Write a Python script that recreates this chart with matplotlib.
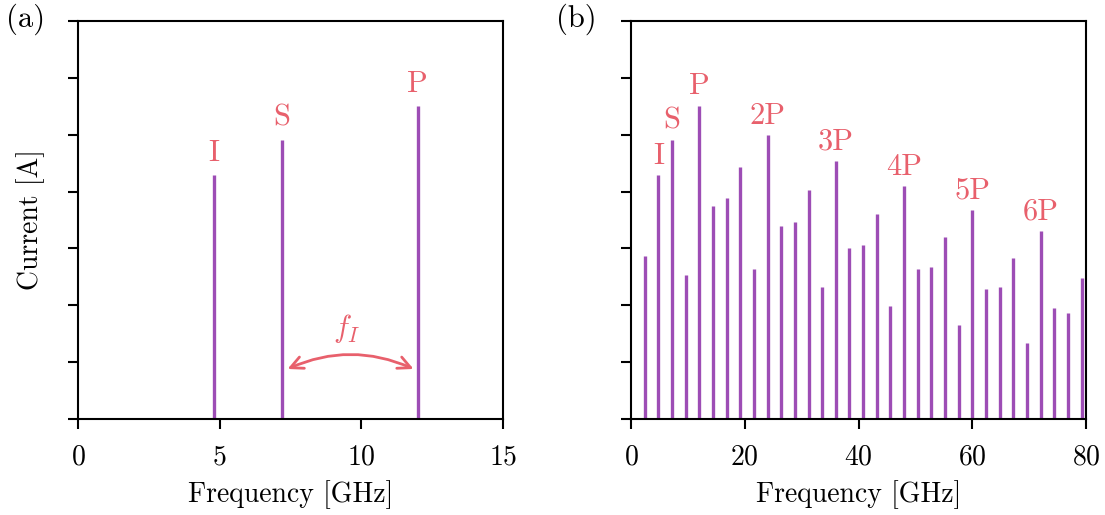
import numpy as np
import matplotlib

matplotlib.use("Agg")
import matplotlib.pyplot as plt  # noqa: E402

# (a) the three tones: idler, signal, pump
tone_freq = [4.8, 7.2, 12.0]
tone_amp = [4.29, 4.91, 5.50]
tone_names = ["I", "S", "P"]

# (b) full mixing spectrum on a 2.4 GHz grid
mix_freq = [2.4 * k for k in range(1, 34)]
mix_amp = [2.86, 4.29, 4.91, 2.54, 5.51, 3.75, 3.88, 4.44, 2.63, 4.99,
           3.39, 3.46, 4.02, 2.32, 4.53, 3.01, 3.06, 3.60, 1.99, 4.09,
           2.63, 2.67, 3.20, 1.65, 3.68, 2.28, 2.32, 2.84, 1.34, 3.31,
           1.96, 1.86, 2.48]
peak_names = {4.8: "I", 7.2: "S", 12.0: "P", 24.0: "2P", 36.0: "3P",
              48.0: "4P", 60.0: "5P", 72.0: "6P"}

PURPLE = "#9d4db5"
RED = "#e8606c"
FS = 20

plt.rcParams.update({
    "font.family": "serif", "font.serif": ["cmr10"], "mathtext.fontset": "cm",
    "axes.formatter.use_mathtext": True, "font.size": FS,
    "axes.linewidth": 1.5, "xtick.major.width": 1.5, "ytick.major.width": 1.5,
    "xtick.major.size": 7, "ytick.major.size": 7,
})

fig = plt.figure(figsize=(11.05, 5.15), dpi=100)
axa = fig.add_axes([0.0706, 0.1864, 0.3844, 0.7727])
axb = fig.add_axes([0.571, 0.1864, 0.412, 0.7727])

# -- a: three tones with the idler spacing arrow --
axa.vlines(tone_freq, 0, tone_amp, color=PURPLE, lw=2.4)
for f, a, n in zip(tone_freq, tone_amp, tone_names):
    axa.annotate(n, (f, a), xytext=(0, 6), textcoords="offset points",
                 ha="center", va="bottom", color=RED, fontsize=FS + 2)
axa.annotate("", xy=(11.85, 0.88), xytext=(7.4, 0.88),
             arrowprops=dict(arrowstyle="<->,head_length=0.45,head_width=0.22",
                             color=RED, lw=2.0, connectionstyle="arc3,rad=-0.22",
                             shrinkA=0, shrinkB=0))
axa.text(9.5, 1.3, r"$f_I$", color=RED, ha="center", va="bottom", fontsize=FS + 2)
axa.set_xlim(0, 15)
axa.set_xticks([0, 5, 10, 15])
axa.set_ylabel("Current [A]", labelpad=6)
axa.set_xlabel("Frequency [GHz]", labelpad=7)

# -- b: mixing products --
axb.vlines(mix_freq, 0, mix_amp, color=PURPLE, lw=2.4)
for f, a in zip(mix_freq, mix_amp):
    key = round(f, 1)
    if key in peak_names:
        axb.annotate(peak_names[key], (f, a), xytext=(0, 4), textcoords="offset points",
                     ha="center", va="bottom", color=RED, fontsize=FS + 2)
axb.set_xlim(0, 80)
axb.set_xticks([0, 20, 40, 60, 80])
axb.set_xlabel("Frequency [GHz]", labelpad=7)

for ax in (axa, axb):
    ax.set_ylim(0, 7)
    ax.set_yticks(range(8))
    ax.set_yticklabels([])
    ax.tick_params(direction="out", pad=11)

fig.text(0.023, 0.963, "(a)", ha="center", va="center", fontsize=FS + 2)
fig.text(0.522, 0.963, "(b)", ha="center", va="center", fontsize=FS + 2)

fig.savefig("out.png", dpi=100)
